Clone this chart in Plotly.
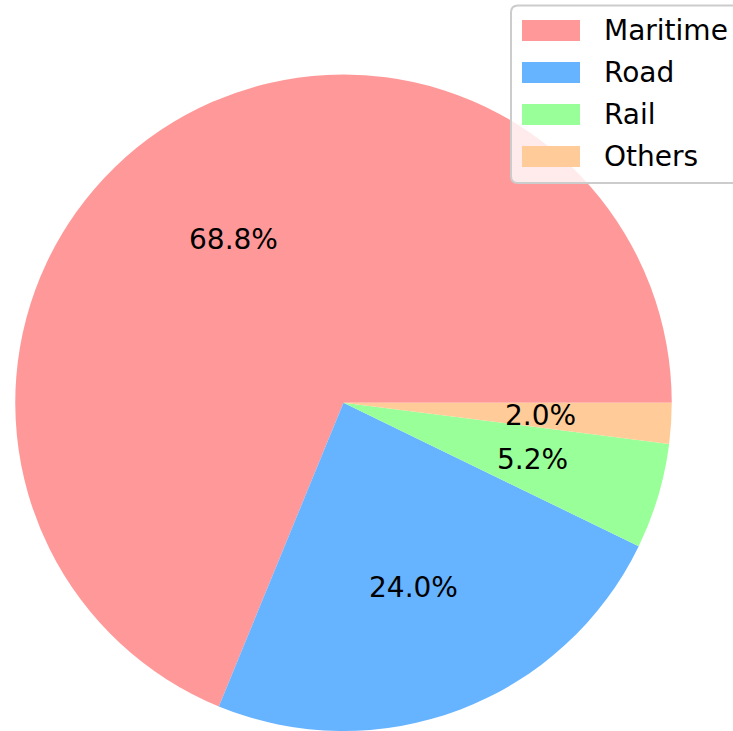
import math
import plotly.graph_objects as go

categories = ["Maritime", "Road", "Rail", "Others"]
shares = [68.8, 24.0, 5.2, 2.0]
colors = ["#ff9999", "#66b3ff", "#99ff99", "#ffcc99"]

W, H = 733, 731

def px(x):  # pixel from left -> paper x
    return x / W

def py(y):  # pixel from top -> paper y
    return (H - y) / H

# pie geometry (pixels)
cx, cy, r = 343.5, 403.5, 329.0
total = sum(shares)

fig = go.Figure(go.Pie(
    labels=categories, values=shares, sort=False,
    direction="counterclockwise",
    rotation=90 - 360 * shares[0] / total,
    marker=dict(colors=colors, line=dict(width=0)),
    textinfo="none", hoverinfo="label+percent",
    showlegend=False,
    domain=dict(x=[px(cx - r), px(cx + r)], y=[max(0, py(cy + r)), py(cy - r)]),
))

annotations = []
start = 0.0
for v in shares:
    mid = math.radians((start + v / 2) / total * 360)
    start += v
    tx = cx + 0.6 * r * math.cos(mid)
    ty = cy - 0.6 * r * math.sin(mid)
    annotations.append(dict(
        x=px(tx), y=py(ty), xref="paper", yref="paper",
        text=f"{v / total * 100:.1f}%", showarrow=False,
        font=dict(family="DejaVu Sans", size=28, color="black"),
        xanchor="center", yanchor="middle",
    ))

# legend (drawn in pixels)
shapes = []
bx0, bx1, by0, by1, rc = 511, 760, 5.5, 183, 7
path = (f"M{px(bx0 + rc)},{py(by0)} L{px(bx1)},{py(by0)} L{px(bx1)},{py(by1)} "
        f"L{px(bx0 + rc)},{py(by1)} Q{px(bx0)},{py(by1)} {px(bx0)},{py(by1 - rc)} "
        f"L{px(bx0)},{py(by0 + rc)} Q{px(bx0)},{py(by0)} {px(bx0 + rc)},{py(by0)} Z")
shapes.append(dict(type="path", xref="paper", yref="paper", path=path,
                   fillcolor="rgba(255,255,255,0.8)",
                   line=dict(color="#cccccc", width=2), layer="above"))
for i, (name, col) in enumerate(zip(categories, colors)):
    yc = 30.5 + 42 * i
    shapes.append(dict(type="rect", xref="paper", yref="paper",
                       x0=px(522), x1=px(580),
                       y0=py(yc + 10.5), y1=py(yc - 10.5),
                       fillcolor=col, line=dict(width=0), layer="above"))
    annotations.append(dict(
        x=px(602), y=py(yc), xref="paper", yref="paper",
        text=name, showarrow=False,
        font=dict(family="DejaVu Sans", size=28, color="black"),
        xanchor="left", yanchor="middle",
    ))

fig.update_layout(
    width=W, height=H,
    margin=dict(l=0, r=0, t=0, b=0),
    paper_bgcolor="white", plot_bgcolor="white",
    annotations=annotations, shapes=shapes,
    showlegend=False,
)

fig.write_html("out.html", config={"displayModeBar": False},
               post_script="document.body.style.margin='0px';")
